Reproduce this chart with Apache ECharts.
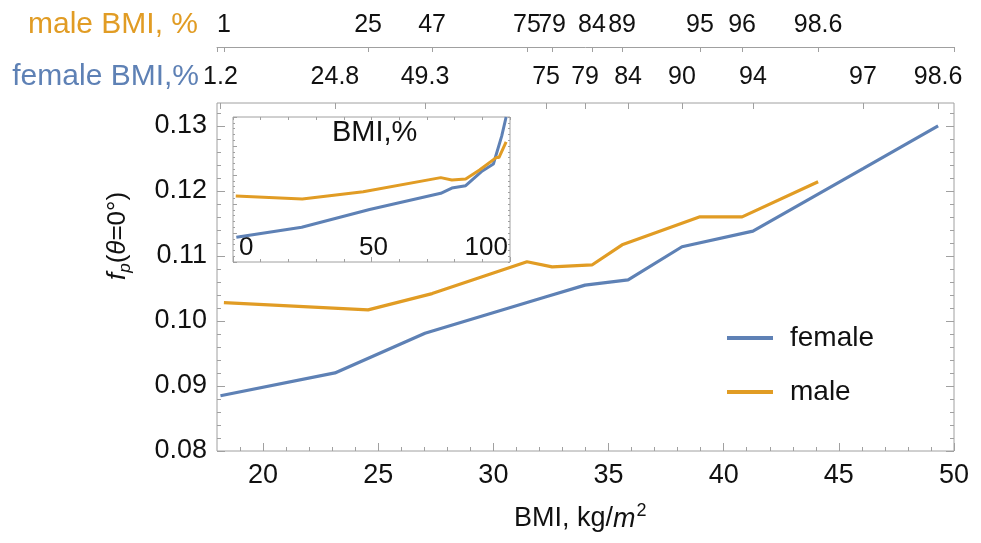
<!DOCTYPE html>
<html>
<head>
<meta charset="utf-8">
<script src="https://cdn.jsdelivr.net/npm/echarts@6/dist/echarts.min.js"></script>
<style>html,body{margin:0;padding:0;background:#fff}#c{width:981px;height:543px}</style>
</head>
<body>
<div id="c"></div>
<script>
// ---- data ----
const femaleBMI = [18.15, 23.12, 27.03, 32.29, 33.98, 35.85, 38.19, 41.27, 46.05, 49.31];
const femalePct = [1.2, 24.8, 49.3, 75, 79, 84, 90, 94, 97, 98.6];
const femaleF   = [0.0885, 0.0920, 0.0981, 0.1037, 0.1055, 0.1063, 0.1114, 0.1138, 0.1234, 0.1300];
const maleBMI   = [18.30, 24.56, 27.34, 31.46, 32.55, 34.28, 35.59, 38.97, 40.80, 44.10];
const malePct   = [1, 25, 47, 75, 79, 84, 89, 95, 96, 98.6];
const maleF     = [0.1028, 0.1017, 0.1042, 0.1091, 0.1083, 0.1086, 0.1117, 0.1160, 0.1160, 0.1214];
const xTicks    = [20, 25, 30, 35, 40, 45, 50];
const xMinor    = [19,21,22,23,24,26,27,28,29,31,32,33,34,36,37,38,39,41,42,43,44,46,47,48,49];
const yTicks    = [0.08, 0.09, 0.10, 0.11, 0.12, 0.13];
const yMinor    = [0.082,0.084,0.086,0.088,0.092,0.094,0.096,0.098,0.102,0.104,0.106,0.108,0.112,0.114,0.116,0.118,0.122,0.124,0.126,0.128,0.132];
const insetXTicks = [0, 50, 100];
const insetXMinor = [10, 20, 30, 40, 60, 70, 80, 90];

const BLUE = '#5E81B5', ORANGE = '#E19C24', FRAME = '#a0a0a0', TXT = '#111';
const FONT = 'Liberation Sans';

function zip(a, b) { return a.map((v, i) => [v, b[i]]); }
function pctLabel(list, labels) {
  return function (v) {
    let best = 0, d = Infinity;
    list.forEach((x, i) => { const e = Math.abs(x - v); if (e < d) { d = e; best = i; } });
    return String(labels[best]);
  };
}

const hidden = { show: false };
function tickAxis(base, values, len) {
  return Object.assign({
    type: 'value', axisLine: { show: false, onZero: false }, splitLine: hidden,
    axisLabel: { show: false },
    axisTick: { show: true, inside: true, length: len, customValues: values, lineStyle: { color: FRAME, width: 1 } }
  }, base);
}

const chart = echarts.init(document.getElementById('c'), null, { renderer: 'canvas' });
chart.setOption({
  animation: false,
  backgroundColor: '#fff',
  textStyle: { fontFamily: FONT },
  grid: [
    { left: 217, top: 103, width: 737, height: 348, show: true, borderColor: FRAME, borderWidth: 1, backgroundColor: 'transparent', containLabel: false, outerBoundsMode: 'none' },
    { left: 233, top: 117, width: 277, height: 145, show: true, borderColor: FRAME, borderWidth: 1, backgroundColor: '#fff', containLabel: false, outerBoundsMode: 'none', z: 3 },
    { left: 217, top: 47, width: 737, height: 10, show: false, containLabel: false, outerBoundsMode: 'none' }
  ],
  xAxis: [
    // 0 main bottom
    Object.assign(tickAxis({ gridIndex: 0, position: 'bottom', min: 18, max: 50 }, xTicks, 8), {
      axisLabel: { show: true, customValues: xTicks, margin: 11, fontSize: 27, color: TXT, fontFamily: FONT }
    }),
    // 1 main bottom minor
    tickAxis({ gridIndex: 0, position: 'bottom', min: 18, max: 50 }, xMinor, 4),
    // 2 main top: female percentiles
    Object.assign(tickAxis({ gridIndex: 0, position: 'top', min: 18, max: 50 }, femaleBMI, 6), {
      axisLabel: { show: true, customValues: femaleBMI, margin: 13, fontSize: 25, color: TXT, fontFamily: FONT,
                   formatter: pctLabel(femaleBMI, femalePct) }
    }),
    // 3 inset bottom
    Object.assign(tickAxis({ gridIndex: 1, position: 'bottom', min: 0, max: 100, z: 5 }, insetXTicks, 5), {
      axisLabel: { show: true, inside: true, customValues: insetXTicks, margin: 1, fontSize: 26, color: TXT, fontFamily: FONT,
                   alignMinLabel: 'left', alignMaxLabel: 'right', padding: [0, 2, 0, 6] }
    }),
    // 4 inset bottom minor
    tickAxis({ gridIndex: 1, position: 'bottom', min: 0, max: 100, z: 5 }, insetXMinor, 3),
    // 5 inset top
    tickAxis({ gridIndex: 1, position: 'top', min: 0, max: 100, z: 5 }, insetXTicks.concat(insetXMinor), 3),
    // 6 male percentile axis
    {
      type: 'value', gridIndex: 2, position: 'top', min: 18, max: 50, splitLine: hidden,
      axisLine: { show: true, onZero: false, lineStyle: { color: FRAME, width: 1 } },
      axisTick: { show: true, inside: true, length: 5, customValues: [18].concat(maleBMI, [50]), lineStyle: { color: FRAME } },
      axisLabel: { show: true, customValues: maleBMI, margin: 9, fontSize: 25, color: TXT, fontFamily: FONT,
                   formatter: pctLabel(maleBMI, malePct) }
    }
  ],
  yAxis: [
    // 0 main left
    Object.assign(tickAxis({ gridIndex: 0, position: 'left', min: 0.08, max: 0.1335 }, yTicks, 8), {
      axisLabel: { show: true, customValues: yTicks, margin: 10, fontSize: 27, color: TXT, fontFamily: FONT,
                   formatter: v => v.toFixed(2) }
    }),
    tickAxis({ gridIndex: 0, position: 'left', min: 0.08, max: 0.1335 }, yMinor, 4),
    tickAxis({ gridIndex: 0, position: 'right', min: 0.08, max: 0.1335 }, yTicks, 8),
    tickAxis({ gridIndex: 0, position: 'right', min: 0.08, max: 0.1335 }, yMinor, 4),
    // 4-6 inset
    tickAxis({ gridIndex: 1, position: 'left', min: 0.08, max: 0.13, z: 5 }, yTicks, 4),
    tickAxis({ gridIndex: 1, position: 'left', min: 0.08, max: 0.13, z: 5 }, yMinor, 2),
    tickAxis({ gridIndex: 1, position: 'right', min: 0.08, max: 0.13, z: 5 }, yTicks.concat(yMinor), 2),
    // 7 dummy for male axis grid
    { type: 'value', gridIndex: 2, show: false, min: 0, max: 1 }
  ],
  legend: {
    orient: 'vertical', left: 722, top: 318, icon: 'rect', itemWidth: 46, itemHeight: 4, itemGap: 24,
    selectedMode: false, data: ['female', 'male'],
    textStyle: { fontSize: 28, color: TXT, fontFamily: FONT, lineHeight: 30, padding: [0, 0, 0, 12] }
  },
  series: [
    { name: 'female', type: 'line', xAxisIndex: 0, yAxisIndex: 0, data: zip(femaleBMI, femaleF), symbol: 'none',
      color: BLUE, lineStyle: { color: BLUE, width: 3.2 }, z: 2 },
    { name: 'male', type: 'line', xAxisIndex: 0, yAxisIndex: 0, data: zip(maleBMI, maleF), symbol: 'none',
      color: ORANGE, lineStyle: { color: ORANGE, width: 3.2 }, z: 2 },
    { name: 'female', type: 'line', xAxisIndex: 3, yAxisIndex: 4, data: zip(femalePct, femaleF), symbol: 'none',
      color: BLUE, lineStyle: { color: BLUE, width: 3 }, clip: true, z: 6 },
    { name: 'male', type: 'line', xAxisIndex: 3, yAxisIndex: 4, data: zip(malePct, maleF), symbol: 'none',
      color: ORANGE, lineStyle: { color: ORANGE, width: 3 }, clip: true, z: 6 }
  ],
  graphic: [
    { type: 'text', right: 981 - 198, top: 10, style: { text: 'male BMI, %', fill: ORANGE, fontSize: 30, fontFamily: FONT } },
    { type: 'text', right: 981 - 199, top: 62, style: { text: 'female BMI,%', fill: BLUE, fontSize: 30, fontFamily: FONT } },
    { type: 'text', left: 332, top: 118, z: 10, style: { text: 'BMI,%', fill: TXT, fontSize: 29, fontFamily: FONT } },
    { type: 'text', left: 514, top: 502, style: {
        text: 'BMI, kg/{i|m}{sup|2}', fill: TXT, fontSize: 27, fontFamily: FONT,
        rich: {
          n: { fontSize: 27, fontFamily: FONT, fill: TXT, lineHeight: 34 },
          i: { fontStyle: 'italic', fontSize: 27, fontFamily: FONT, fill: TXT, lineHeight: 34 },
          sup: { fontSize: 18, fontFamily: FONT, fill: TXT, verticalAlign: 'top', lineHeight: 34, padding: [0, 0, 12, 1] }
        } } },
    { type: 'text', x: 102, y: 280, rotation: Math.PI / 2, style: {
        text: '{i|f}{s|p}({i|θ}=0°)', fill: TXT, fontSize: 26, fontFamily: FONT,
        rich: {
          i: { fontStyle: 'italic', fontSize: 26, fontFamily: FONT, fill: TXT, lineHeight: 32 },
          s: { fontStyle: 'italic', fontSize: 17, fontFamily: FONT, fill: TXT, verticalAlign: 'bottom', lineHeight: 32, padding: [10, 0, 0, 0] }
        } } }
  ]
});
</script>
</body>
</html>
